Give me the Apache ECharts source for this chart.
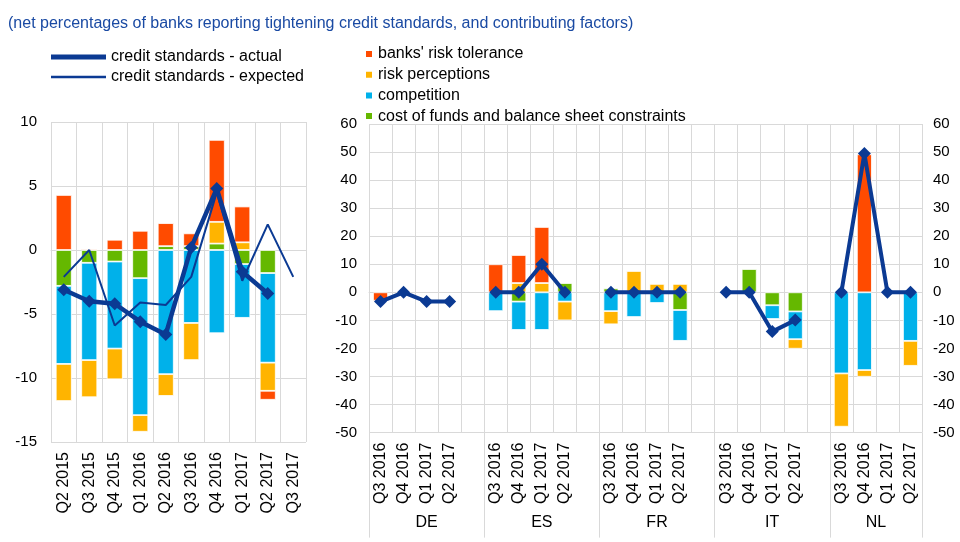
<!DOCTYPE html>
<html>
<head>
<meta charset="utf-8">
<script src="https://cdn.jsdelivr.net/npm/echarts@6/dist/echarts.min.js"></script>
<style>
  html, body { margin: 0; padding: 0; background: #fff; }
  #chart { width: 960px; height: 542px; }
</style>
</head>
<body>
<div id="chart"></div>
<script>
// left panel: euro area, by quarter
const leftCats = ['Q2 2015', 'Q3 2015', 'Q4 2015', 'Q1 2016', 'Q2 2016', 'Q3 2016', 'Q4 2016', 'Q1 2017', 'Q2 2017', 'Q3 2017'];
const leftRiskTol = [4.3, 0.1, 0.8, 1.5, 1.8, 1.0, 6.4, 2.8, -0.7, null];
const leftRiskPerc = [-2.9, -2.9, -2.4, -1.3, -1.7, -2.9, 1.7, 0.6, -2.2, null];
const leftComp = [-6.1, -7.6, -6.8, -10.7, -9.7, -5.7, -6.5, -4.2, -7.0, null];
const leftCost = [-2.8, -1.0, -0.9, -2.2, 0.3, 0.3, 0.5, -1.1, -1.8, null];
const leftActual = [-3.1, -4.0, -4.2, -5.6, -6.6, 0.2, 4.8, -1.7, -3.4, null];
const leftExpected = [-2.1, 0, -5.9, -4.1, -4.3, -2.1, 4.5, -2.4, 2.0, -2.1];

// right panel: countries, each with four quarters (order DE, ES, FR, IT, NL)
const countries = ['DE', 'ES', 'FR', 'IT', 'NL'];
const quarters = ['Q3 2016', 'Q4 2016', 'Q1 2017', 'Q2 2017'];
const ctyRiskTol = [[-3, null, null, null], [10, 10, 20, null], [null, null, null, null], [null, null, null, null], [null, 49.2, null, null]];
const ctyRiskPerc = [[null, null, null, null], [null, 3.3, 3.3, -6.7], [-4.7, 7.6, 3.0, 3.0], [null, null, null, -3.4], [-19.0, -2.4, null, -8.9]];
const ctyComp = [[null, null, null, null], [-6.7, -10.1, -13.4, -3.3], [-6.7, -8.8, -3.8, -11.0], [null, null, -4.9, -9.9], [-28.9, -27.7, null, -17.3]];
const ctyCost = [[null, null, null, null], [null, -3.3, null, 3.3], [1.4, null, null, -6.3], [null, 8.3, -4.6, -6.8], [null, null, null, null]];
const ctyActual = [[-3.3, 0, -3.3, -3.3], [0, 0, 10, 0], [0, 0, 0, 0], [0, 0, -14, -9.9], [0, 49.5, 0, 0]];

const leftTicks = { min: -15, max: 10, interval: 5 };
const rightTicks = { min: -50, max: 60, interval: 10 };

// flatten groups, with an empty slot between countries
function flat(groups) {
  let out = [];
  groups.forEach(function (g, i) {
    out = out.concat(g);
    if (i < groups.length - 1) out.push(null);
  });
  return out;
}
const rightCats = flat(countries.map(function () { return quarters; })).map(function (c) { return c || ''; });
const groupEdges = [0];
const groupCenters = [];
countries.forEach(function (c, i) {
  const start = groupEdges[groupEdges.length - 1];
  const size = quarters.length + (i < countries.length - 1 ? 1 : 0);
  groupCenters.push(start + size / 2);
  groupEdges.push(start + size);
});

const cRed = '#ff4b00', cYellow = '#ffb400', cBlue = '#00b1ea', cGreen = '#65b800', cLine = '#0b3a93';
const gridGrey = '#d9d9d9';
const font = 'Liberation Sans, Arial, sans-serif';

const chart = echarts.init(document.getElementById('chart'), null, { renderer: 'canvas' });

function barSeries(name, color, data, idx, width) {
  return {
    name: name, type: 'bar', stack: 'f' + idx, xAxisIndex: idx === 0 ? 0 : 1, yAxisIndex: idx === 0 ? 0 : 1,
    data: data, barWidth: width, itemStyle: { color: color, borderColor: '#fff', borderWidth: 0.8 },
    emphasis: { disabled: true }
  };
}

const yLabel = { color: '#000', fontSize: 15, fontFamily: font };
const xLabel = { color: '#000', fontSize: 16, fontFamily: font, rotate: 90, interval: 0, margin: 10 };
const legendText = { color: '#000', fontSize: 16, fontFamily: font, lineHeight: 16 };

let option = {
  animation: false,
  backgroundColor: '#fff',
  title: {
    text: '(net percentages of banks reporting tightening credit standards, and contributing factors)',
    left: 3, top: 11,
    textStyle: { color: '#1a4aa3', fontSize: 16, fontWeight: 'normal', fontFamily: font }
  },
  legend: [
    {
      data: [{ name: 'credit standards - actual', icon: 'rect' }],
      left: 46, top: 44, itemWidth: 55, itemHeight: 5, itemGap: 0,
      textStyle: legendText, selectedMode: false
    },
    {
      data: [{ name: 'credit standards - expected', icon: 'rect' }],
      left: 46, top: 64, itemWidth: 55, itemHeight: 2.5, itemGap: 0,
      textStyle: legendText, selectedMode: false
    },
    {
      data: ["banks' risk tolerance", 'risk perceptions', 'competition', 'cost of funds and balance sheet constraints'],
      orient: 'vertical', left: 359, top: 41, icon: 'rect', itemWidth: 8, itemHeight: 8, itemGap: 4.7,
      textStyle: legendText, selectedMode: false
    }
  ],
  grid: [
    { left: 51, top: 122, width: 255, height: 320 },
    { left: 369, top: 124, width: 553, height: 308.6 },
    // strip under the right panel that holds the country separators
    { left: 369, top: 432.6, width: 553, height: 105 }
  ],
  xAxis: [
    {
      gridIndex: 0, type: 'category', data: leftCats,
      axisLine: { lineStyle: { color: gridGrey } }, axisTick: { show: false },
      axisLabel: xLabel,
      splitLine: { show: true, interval: 0, lineStyle: { color: gridGrey } }
    },
    {
      gridIndex: 1, type: 'category', data: rightCats,
      axisLine: { lineStyle: { color: gridGrey } }, axisTick: { show: false },
      axisLabel: xLabel,
      splitLine: { show: true, interval: 0, lineStyle: { color: gridGrey } }
    },
    {
      gridIndex: 1, type: 'value', position: 'bottom', min: 0, max: groupEdges[groupEdges.length - 1],
      axisLine: { show: false }, splitLine: { show: false },
      axisTick: { show: false },
      axisLabel: {
        customValues: groupCenters, margin: 82, color: '#000', fontSize: 16, fontFamily: font,
        formatter: function (v) {
          const i = groupCenters.indexOf(v);
          return i >= 0 ? countries[i] : '';
        }
      }
    },
    {
      gridIndex: 2, type: 'category', data: rightCats,
      axisLine: { show: false }, axisTick: { show: false }, axisLabel: { show: false },
      splitLine: {
        show: true, lineStyle: { color: gridGrey },
        interval: function (i) { return groupEdges.indexOf(i) >= 0; }
      }
    }
  ],
  yAxis: [
    {
      gridIndex: 0, type: 'value', min: leftTicks.min, max: leftTicks.max, interval: leftTicks.interval,
      axisLine: { show: false }, axisTick: { show: false },
      axisLabel: Object.assign({ margin: 14 }, yLabel),
      splitLine: { lineStyle: { color: gridGrey } }
    },
    {
      gridIndex: 1, type: 'value', min: rightTicks.min, max: rightTicks.max, interval: rightTicks.interval,
      axisLine: { show: false }, axisTick: { show: false },
      axisLabel: Object.assign({ margin: 12 }, yLabel),
      splitLine: { lineStyle: { color: gridGrey } }
    },
    {
      gridIndex: 1, type: 'value', position: 'right', min: rightTicks.min, max: rightTicks.max, interval: rightTicks.interval,
      axisLine: { show: false }, axisTick: { show: false },
      axisLabel: Object.assign({ margin: 11 }, yLabel),
      splitLine: { show: false }
    },
    {
      gridIndex: 2, type: 'value', min: 0, max: 1, show: false
    }
  ],
  series: [
    barSeries('cost of funds and balance sheet constraints', cGreen, leftCost, 0, 16),
    barSeries('competition', cBlue, leftComp, 0, 16),
    barSeries('risk perceptions', cYellow, leftRiskPerc, 0, 16),
    barSeries("banks' risk tolerance", cRed, leftRiskTol, 0, 16),
    barSeries('cost of funds and balance sheet constraints', cGreen, flat(ctyCost), 1, 15),
    barSeries('competition', cBlue, flat(ctyComp), 1, 15),
    barSeries('risk perceptions', cYellow, flat(ctyRiskPerc), 1, 15),
    barSeries("banks' risk tolerance", cRed, flat(ctyRiskTol), 1, 15),
    {
      name: 'credit standards - expected', type: 'line', xAxisIndex: 0, yAxisIndex: 0,
      data: leftExpected, showSymbol: false, symbol: 'none',
      lineStyle: { color: cLine, width: 2 }, itemStyle: { color: cLine }, z: 3
    },
    {
      name: 'credit standards - actual', type: 'line', xAxisIndex: 0, yAxisIndex: 0,
      data: leftActual, symbol: 'diamond', symbolSize: 13,
      lineStyle: { color: cLine, width: 4.5 }, itemStyle: { color: cLine }, z: 4
    },
    {
      name: 'credit standards - actual', type: 'line', xAxisIndex: 1, yAxisIndex: 1,
      data: flat(ctyActual), symbol: 'diamond', symbolSize: 13, connectNulls: false,
      lineStyle: { color: cLine, width: 4 }, itemStyle: { color: cLine }, z: 4
    }
  ]
};
chart.setOption(option);
</script>
</body>
</html>
